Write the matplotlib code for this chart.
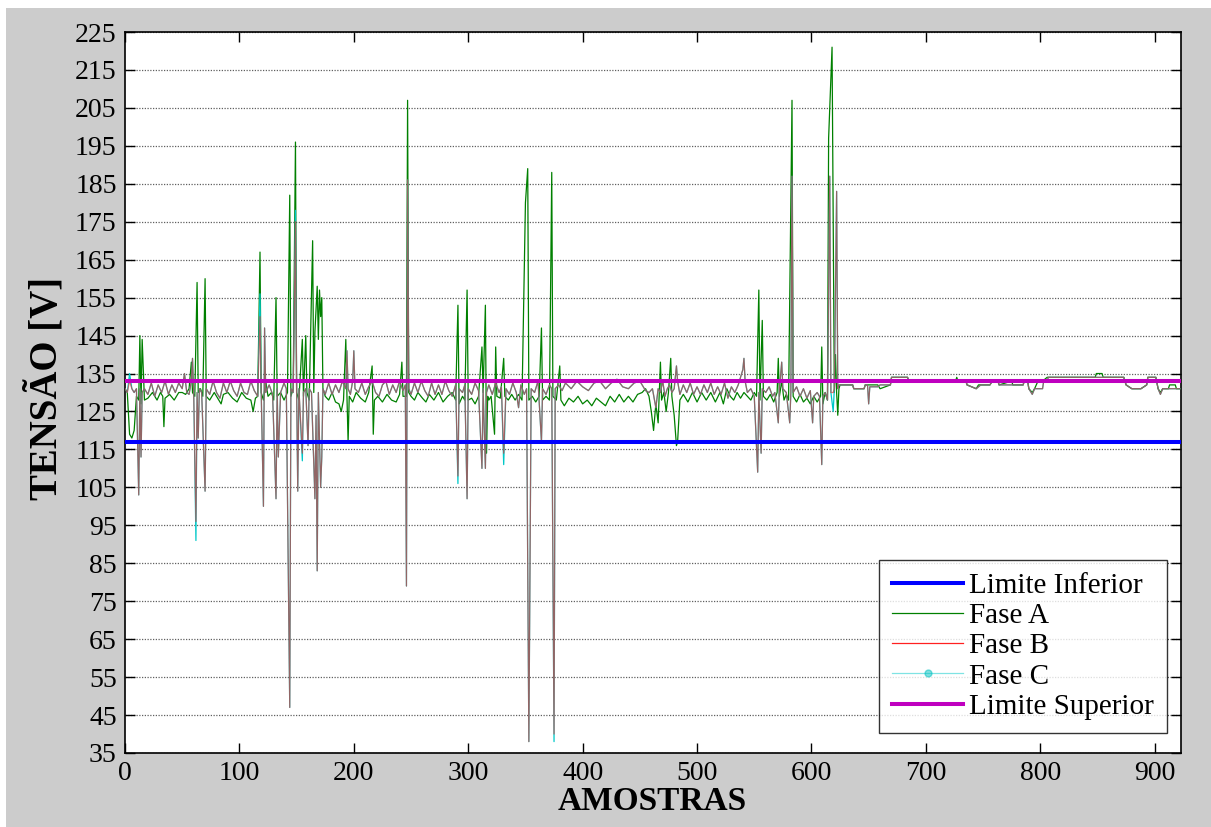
import matplotlib
matplotlib.use("Agg")
import matplotlib.pyplot as plt
from matplotlib.lines import Line2D
from matplotlib.patches import Rectangle

plt.rcParams['font.family'] = ['Liberation Serif', 'DejaVu Serif']

limite_inferior = 117
limite_superior = 133

# (amostra, tensao)
fase_a = [
    (0, 131), (2, 130), (4, 119), (6, 118), (8, 120), (10, 129), (12, 128), (13, 145), (14, 127), (15, 144),
    (17, 128), (20, 128.5), (24, 130), (28, 128), (31, 130), (33, 129), (34, 121), (35, 128.5), (39, 129.5),
    (43, 128), (47, 130), (50, 130), (53, 129.5), (56, 131), (58, 138), (59, 130), (61, 129), (63, 159),
    (64, 130), (66, 131), (68, 129), (70, 160), (71, 129), (74, 128), (78, 130), (82, 128), (84, 127),
    (86, 129.5), (90, 130), (94, 128.5), (98, 127.5), (102, 130), (106, 128.5), (110, 128), (112, 125),
    (114, 128.5), (116, 129), (118, 167), (119, 130), (121, 128), (123, 133), (125, 129), (128, 130),
    (130, 128), (132, 155), (133, 129), (136, 130), (139, 128), (142, 130), (144, 182), (145, 129),
    (147, 131), (149, 196), (150, 130), (152, 128), (155, 144), (156, 129), (158, 145), (159, 130),
    (161, 128), (164, 170), (165, 130), (166, 146), (168, 158), (169, 144), (170, 157), (171, 150),
    (172, 155), (173, 131), (175, 129), (178, 128), (181, 130), (184, 127.5), (187, 127), (189, 125),
    (191, 128), (193, 144), (194, 129), (195, 117), (196, 129), (199, 127.5), (202, 130), (206, 128.5),
    (210, 127.5), (213, 130), (216, 137), (217, 119), (218, 128), (221, 129), (225, 127.5), (229, 129.5),
    (233, 128), (237, 127.5), (240, 129.5), (242, 138), (243, 129), (246, 129), (247, 207), (248, 130),
    (250, 129), (253, 128), (256, 130), (260, 128.5), (263, 127.5), (266, 129.5), (270, 128), (274, 130),
    (278, 127.5), (282, 129), (286, 130), (289, 128), (291, 153), (292, 127), (295, 129), (297, 128),
    (299, 157), (300, 128), (303, 128.5), (306, 127), (309, 129), (312, 142), (313, 130), (315, 153),
    (316, 114), (317, 129), (318, 128), (320, 129), (323, 119), (324, 142), (325, 129), (328, 128.5),
    (331, 139), (332, 129), (335, 128), (338, 129.5), (341, 128), (344, 129.5), (347, 128), (350, 180),
    (352, 189), (353, 128), (356, 129), (359, 127.5), (362, 129), (364, 147), (365, 128), (368, 129),
    (371, 128), (373, 188), (374, 129), (377, 128), (380, 137), (381, 128), (384, 126.5), (388, 128.5),
    (392, 127.5), (396, 129), (400, 127), (404, 128), (408, 126.5), (412, 128.5), (416, 127.5), (420, 126.5),
    (424, 129), (428, 127.5), (432, 129.5), (436, 127.5), (440, 129), (444, 127.5), (448, 129.5), (452, 130),
    (455, 131), (458, 129), (460, 125), (462, 120), (464, 127), (466, 122), (468, 138), (469, 128),
    (471, 130), (473, 125), (475, 130), (477, 139), (478, 129), (480, 124), (482, 116), (483, 117),
    (485, 128), (488, 129.5), (492, 127.5), (496, 130), (500, 127.5), (504, 130), (508, 128), (512, 130),
    (516, 127.5), (520, 130), (523, 127), (526, 131), (529, 129), (532, 128), (535, 130), (538, 128.5),
    (541, 130), (544, 129), (547, 128), (550, 130), (552, 129), (554, 157), (555, 128), (557, 149),
    (558, 129), (561, 128), (564, 129.5), (567, 127.5), (570, 130), (571, 139), (572, 129), (574, 133),
    (576, 128), (578, 129.5), (580, 128), (583, 207), (584, 129), (587, 127.5), (590, 129.5), (593, 127.5),
    (596, 128.5), (599, 127), (602, 129), (605, 127.5), (608, 129), (609, 142), (610, 127), (612, 130),
    (614, 128), (615, 197), (618, 221), (620, 130), (621, 140), (622, 130), (623, 124), (624, 131),
    (625, 132), (636, 132), (637, 131), (646, 131), (647, 132), (658, 132), (660, 131), (669, 132),
    (670, 134), (684, 134), (685, 133), (726, 133), (727, 134), (728, 133), (735, 133), (736, 132),
    (744, 131), (746, 132), (756, 132), (758, 133), (763, 133), (764, 132), (775, 133), (776, 132),
    (785, 132), (786, 133), (789, 133), (790, 131), (793, 130), (795, 131), (798, 133), (802, 133),
    (806, 134), (848, 134), (849, 135), (854, 135), (855, 134), (873, 134), (875, 132), (880, 131),
    (888, 131), (893, 132), (894, 134), (901, 134), (903, 131), (905, 130), (907, 131), (912, 131),
    (913, 132), (918, 132), (919, 131), (922, 131),
]

fase_b = [
    (0, 131), (2, 130), (4, 133), (6, 131), (8, 130), (10, 131), (12, 103), (13, 131), (14, 113), (15, 130),
    (17, 131), (20, 129.5), (23, 132.5), (26, 129), (29, 132), (32, 130), (35, 133), (38, 129.5),
    (41, 132), (44, 130), (47, 132.5), (50, 131), (52, 135), (54, 130), (56, 129.5), (58, 133), (59, 139),
    (60, 131), (62, 96), (63, 130), (64, 118), (65, 131), (67, 130), (70, 104), (71, 131), (74, 129.5),
    (77, 133), (80, 130), (83, 128.5), (86, 132.5), (89, 130), (92, 133), (95, 130.5), (98, 129),
    (101, 132.5), (104, 130), (107, 129.5), (110, 133), (113, 130.5), (116, 129), (118, 150), (119, 131),
    (121, 100), (122, 147), (123, 130), (126, 132), (129, 129.5), (132, 102), (133, 131), (134, 113),
    (136, 130), (139, 132.5), (141, 131), (144, 47), (145, 131), (147, 130), (149, 175), (150, 131),
    (151, 104), (152, 131), (155, 114), (156, 130), (158, 131), (160, 116), (161, 131), (163, 130),
    (166, 102), (167, 124), (168, 83), (169, 130), (171, 105), (172, 113), (173, 131), (175, 129.5),
    (178, 132.5), (181, 129.5), (184, 132), (187, 130), (190, 133), (193, 131), (194, 141), (195, 131),
    (197, 129.5), (199, 133), (200, 141), (201, 131), (204, 130), (207, 132.5), (210, 129.5), (213, 131.5),
    (216, 133), (219, 130), (222, 129), (225, 132), (228, 133), (231, 129.5), (234, 132), (237, 130),
    (240, 133), (243, 130.5), (245, 132), (246, 79), (247, 186), (248, 131), (250, 129.5), (253, 132.5),
    (256, 130), (259, 133), (262, 130.5), (265, 129), (268, 132.5), (271, 129.5), (274, 132), (277, 129.5),
    (280, 133), (283, 130.5), (286, 129), (289, 132), (291, 108), (292, 131), (295, 130), (297, 132),
    (299, 102), (300, 131), (303, 129.5), (306, 132.5), (309, 130.5), (312, 110), (313, 131), (315, 110),
    (316, 130), (318, 132), (321, 129.5), (324, 132.5), (327, 130), (329, 131.5), (331, 114), (333, 131),
    (336, 129.5), (339, 132.5), (342, 130), (344, 126), (346, 132), (349, 129.5), (351, 131), (353, 38),
    (355, 131), (358, 130), (361, 133), (364, 117), (365, 131), (368, 129.5), (371, 132), (373, 131),
    (375, 40), (376, 131), (379, 132), (382, 130.5), (385, 132.5), (390, 131), (395, 133), (400, 131.5),
    (405, 130.5), (410, 132.5), (415, 133), (420, 131), (425, 132.5), (430, 133.5), (435, 131.5), (440, 131),
    (445, 132.5), (450, 133), (455, 130.5), (458, 130), (461, 131), (464, 126), (466, 131), (468, 130),
    (470, 133), (472, 129), (474, 131), (476, 132), (478, 130), (480, 131), (482, 137), (483, 133),
    (485, 129.5), (488, 132), (491, 130), (494, 132.5), (497, 129.5), (500, 131.5), (503, 129.5), (506, 132),
    (509, 130), (512, 132.5), (515, 129.5), (518, 131.5), (521, 129.5), (524, 132.5), (527, 128.5),
    (530, 131.5), (533, 130), (536, 132), (538, 134), (540, 136), (541, 139), (542, 133), (544, 130),
    (547, 131), (550, 129), (553, 109), (554, 130), (556, 114), (557, 131), (560, 130), (563, 131.5),
    (566, 129), (568, 130), (571, 122), (572, 131), (574, 138), (575, 131), (578, 130), (581, 122),
    (582, 130), (583, 187), (584, 130), (587, 131.5), (590, 129), (593, 131), (596, 128.5), (599, 130.5),
    (601, 122), (602, 129), (605, 130), (607, 129), (609, 111), (610, 129), (612, 130), (614, 128),
    (616, 187), (617, 130), (619, 130), (620, 131), (622, 183), (623, 131), (624, 132),
    (625, 132), (636, 132), (637, 131), (646, 131), (647, 132), (649, 132), (650, 127), (651, 131.5),
    (658, 131.5), (660, 132), (669, 132), (670, 134), (684, 134), (685, 133), (735, 133), (736, 132),
    (744, 131), (748, 132), (756, 132), (758, 133), (763, 133), (764, 132), (785, 132), (786, 133),
    (789, 133), (790, 131), (793, 129.5), (795, 131), (802, 131), (803, 133), (806, 133), (807, 134),
    (873, 134), (875, 132), (880, 131), (888, 131), (893, 132), (894, 134), (901, 134), (903, 131),
    (905, 129.5), (907, 131), (922, 131),
]

# Fase C lies under Fase B except at these samples
desvios_c = {4: 135, 62: 91, 118: 156, 149: 178, 155: 112, 291: 106, 331: 111, 375: 38, 619: 125}

amostras_a, tensao_a = zip(*fase_a)
amostras_b, tensao_b = zip(*fase_b)
tensao_c = [desvios_c.get(s, v) for s, v in fase_b]

fig = plt.figure(figsize=(12.11, 8.27), dpi=100)
fig.patch.set_facecolor('white')
fig.add_artist(Rectangle((6 / 1211, 0), 1, 1 - 8 / 827, transform=fig.transFigure,
                         facecolor='#cccccc', edgecolor='none', zorder=-10))

ax = fig.add_axes([125 / 1211, 74 / 827, 1056 / 1211, 721 / 827])
ax.set_facecolor('white')

ax.axhline(limite_inferior, color='#0000ff', lw=2.9, zorder=6)
ax.plot(amostras_a, tensao_a, color='#008000', lw=0.9, zorder=3)
ax.plot(amostras_b, tensao_c, color='#00c8c8', lw=0.9, zorder=4)
ax.plot(amostras_b, tensao_b, color='#e03030', lw=0.9, alpha=0.65, zorder=5)
ax.axhline(limite_superior, color='#bf00bf', lw=2.9, zorder=6)

ax.set_xlim(0, 923)
ax.set_ylim(35, 225)
ax.set_xticks(range(0, 901, 100))
ax.set_yticks(range(35, 226, 10))
ax.yaxis.grid(True, linestyle=(0, (1, 1.2)), color='#606060', lw=0.9)
ax.set_axisbelow(True)
ax.tick_params(direction='in', length=7, width=1, top=True, right=True,
               labelsize=20, pad=6, colors='black')
for sp in ax.spines.values():
    sp.set_linewidth(1.2)

fig.text(652 / 1211, 1 - 801 / 827, 'AMOSTRAS', ha='center', va='center',
         fontsize=24, fontweight='bold')
fig.text(46 / 1211, 1 - 388 / 827, 'TENSÃO [V]', ha='center', va='center',
         rotation=90, fontsize=28, fontweight='bold')

handles = [
    Line2D([], [], color='#0000ff', lw=2.9),
    Line2D([], [], color='#008000', lw=0.9),
    Line2D([], [], color='#ff2020', lw=0.9),
    Line2D([], [], color='#00c8c8', lw=0.9, alpha=0.5, marker='o', markersize=5,
           markerfacecolor='#00c0c0', markeredgecolor='#00c0c0'),
    Line2D([], [], color='#bf00bf', lw=2.9),
]
labels = ['Limite Inferior', 'Fase A', 'Fase B', 'Fase C', 'Limite Superior']
leg = ax.legend(handles, labels, loc='lower right', bbox_to_anchor=(0.9867, 0.0277),
                borderaxespad=0, fontsize=21, frameon=True, fancybox=False,
                edgecolor='black', handlelength=2.45, handletextpad=0.2,
                labelspacing=0.13, borderpad=0.45, numpoints=1)
leg.get_frame().set_linewidth(1.0)
leg.set_zorder(10)

fig.savefig('out.png', dpi=100)
